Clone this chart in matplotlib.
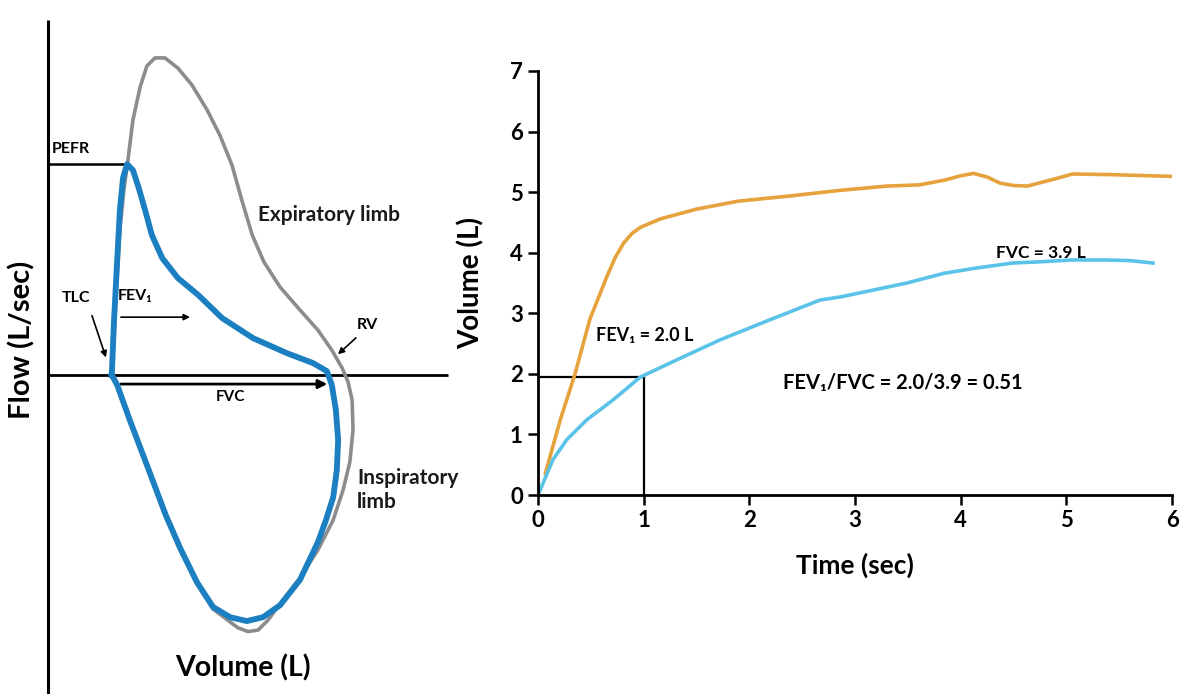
import matplotlib
matplotlib.use("Agg")
import matplotlib.pyplot as plt

plt.rcParams['font.family'] = ['Lato', 'DejaVu Sans']
plt.rcParams['font.weight'] = 'bold'
plt.rcParams['axes.labelweight'] = 'bold'

# ---- flow-volume loop (schematic), volume from TLC in L, flow in L/s ----
normal_vol = [0.04, 0.13, 0.22, 0.31, 0.40, 0.51, 0.67, 0.82, 1.00, 1.22, 1.51, 1.82,
              2.16, 2.44, 2.71, 2.93, 3.16, 3.42, 3.78, 4.22, 4.62, 4.93, 5.16, 5.29,
              5.38, 5.40, 5.33, 5.18, 4.96, 4.62, 4.22, 3.84, 3.51, 3.29, 3.07, 2.84,
              2.60, 2.29, 1.93, 1.56, 1.24, 0.82, 0.44, 0.16, 0.04]
normal_flow = [0.0, 2.5, 4.83, 6.17, 7.17, 8.5, 9.6, 10.3, 10.57, 10.57, 10.23, 9.67,
               8.83, 8.0, 7.0, 5.83, 4.67, 3.77, 2.93, 2.17, 1.5, 0.83, 0.23, -0.23,
               -0.83, -1.83, -2.9, -3.83, -4.83, -5.83, -6.77, -7.5, -8.17, -8.5, -8.55, -8.42,
               -8.15, -7.8, -6.95, -5.8, -4.7, -3.03, -1.52, -0.35, 0.0]

patient_vol = [0.04, 0.09, 0.16, 0.22, 0.29, 0.38, 0.51, 0.64, 0.78, 0.93, 1.16, 1.51,
               1.96, 2.49, 3.18, 3.93, 4.51, 4.82, 4.93, 5.02, 5.07, 5.04, 4.96, 4.80,
               4.62, 4.22, 3.78, 3.40, 3.04, 2.67, 2.29, 1.93, 1.56, 1.24, 0.82, 0.44,
               0.16, 0.04]
patient_flow = [0.0, 1.83, 3.83, 5.5, 6.57, 7.03, 6.83, 6.23, 5.5, 4.67, 3.9, 3.23,
                2.67, 1.9, 1.23, 0.73, 0.4, 0.13, -0.33, -1.17, -2.17, -3.17, -4.07, -4.83,
                -5.57, -6.83, -7.67, -8.07, -8.2, -8.07, -7.73, -6.9, -5.77, -4.67, -3.0, -1.5,
                -0.33, 0.0]

pefr = 7.03
fvc_loop = 4.89

# ---- volume-time curves ----
normal_t = [0.07, 0.21, 0.35, 0.49, 0.65, 0.73, 0.81, 0.89, 0.97, 1.16, 1.5, 1.89, 2.4, 2.86,
            3.3, 3.61, 3.85, 4.0, 4.12, 4.25, 4.37, 4.5, 4.63, 4.85, 5.06, 5.4, 6.0]
normal_v = [0.36, 1.24, 2.0, 2.9, 3.6, 3.92, 4.16, 4.32, 4.42, 4.56, 4.72, 4.85, 4.94, 5.03,
            5.1, 5.12, 5.2, 5.27, 5.31, 5.25, 5.15, 5.11, 5.1, 5.2, 5.3, 5.29, 5.26]

patient_t = [0.0, 0.14, 0.27, 0.46, 0.71, 0.97, 1.25, 1.72, 2.19, 2.67, 2.86, 3.19,
             3.49, 3.84, 4.12, 4.49, 4.75, 5.05, 5.38, 5.6, 5.82]
patient_v = [0.0, 0.58, 0.91, 1.24, 1.57, 1.95, 2.18, 2.56, 2.89, 3.22, 3.27, 3.39,
             3.5, 3.66, 3.74, 3.83, 3.85, 3.88, 3.88, 3.87, 3.83]

fev1_t = 1.0
fev1_v = 1.95
time_ticks = [0, 1, 2, 3, 4, 5, 6]
vol_ticks = [0, 1, 2, 3, 4, 5, 6, 7]

fig = plt.figure(figsize=(11.82, 6.94), dpi=100)

# ------------------------- left panel -------------------------
ax1 = fig.add_axes([0, 0, 0.4, 1])
ax1.set_xlim(-2.444, 8.062)
ax1.set_ylim(-10.63, 12.5)
ax1.axis('off')

axis_v = -1.378
ax1.plot([axis_v, axis_v], [-10.63, 11.83], color='black', lw=2.2, solid_capstyle='butt')
ax1.plot([axis_v, 7.51], [0, 0], color='black', lw=2.0, solid_capstyle='butt')

ax1.plot(normal_vol, normal_flow, color='#8c8c8c', lw=2.6, solid_joinstyle='round', zorder=3)
ax1.plot(patient_vol, patient_flow, color='#1b7fc1', lw=4.2, solid_joinstyle='round', zorder=4)

# PEFR
ax1.plot([axis_v, 0.38], [pefr, pefr], color='black', lw=1.8)
ax1.text(-1.30, 7.55, 'PEFR', fontsize=11.5, ha='left', va='center')

arrow_thin = dict(arrowstyle='-|>', color='black', lw=1.2, mutation_scale=9)
ax1.text(-0.76, 2.57, 'TLC', fontsize=11.5, ha='center', va='center')
ax1.annotate('', xy=(-0.07, 0.5), xytext=(-0.42, 2.07), arrowprops=arrow_thin)

ax1.text(0.18, 2.65, 'FEV\u2081', fontsize=11.5, ha='left', va='center')
ax1.annotate('', xy=(1.84, 1.93), xytext=(0.18, 1.93), arrowprops=arrow_thin)

ax1.annotate('', xy=(fvc_loop, -0.3), xytext=(0.18, -0.3),
             arrowprops=dict(arrowstyle='-|>', color='black', lw=2.0, mutation_scale=13))
ax1.text(2.67, -0.73, 'FVC', fontsize=11, ha='center', va='center')

ax1.text(5.72, 1.67, 'RV', fontsize=11.5, ha='center', va='center')
ax1.annotate('', xy=(5.02, 0.63), xytext=(5.51, 1.3), arrowprops=arrow_thin)

ax1.text(3.29, 5.33, 'Expiratory limb', fontsize=15, ha='left', va='center', color='#1a1a1a')
ax1.text(5.49, -3.83, 'Inspiratory\nlimb', fontsize=15, ha='left', va='center',
         linespacing=1.3, color='#1a1a1a')

ax1.text(2.96, -9.77, 'Volume (L)', fontsize=20.5, ha='center', va='center')
ax1.text(-1.96, 1.17, 'Flow (L/sec)', fontsize=21, ha='center', va='center', rotation=90)

# ------------------------- right panel -------------------------
ax2 = fig.add_axes([0.4552, 0.2867, 0.5364, 0.611])
ax2.plot(normal_t, normal_v, color='#e6a23c', lw=2.6, solid_joinstyle='round')
ax2.plot(patient_t, patient_v, color='#5cc3e8', lw=2.6, solid_joinstyle='round')
ax2.plot([0, fev1_t], [fev1_v, fev1_v], color='black', lw=1.6, zorder=1)
ax2.plot([fev1_t, fev1_t], [0, fev1_v], color='black', lw=1.6, zorder=1)

ax2.set_xlim(0, 6)
ax2.set_ylim(0, 7)
ax2.set_xticks(time_ticks)
ax2.set_yticks(vol_ticks)
ax2.set_xticklabels([str(t) for t in time_ticks], fontweight='bold', fontsize=16)
ax2.set_yticklabels([str(v) for v in vol_ticks], fontweight='bold', fontsize=16)
for s in ['top', 'right']:
    ax2.spines[s].set_visible(False)
for s in ['left', 'bottom']:
    ax2.spines[s].set_linewidth(2.0)
ax2.tick_params(direction='out', length=7, width=1.8, pad=4)

ax2.set_xlabel('Time (sec)', fontsize=19, fontweight='bold')
ax2.set_ylabel('Volume (L)', fontsize=20, fontweight='bold')
ax2.xaxis.set_label_coords(0.5, -0.135)
ax2.yaxis.set_label_coords(-0.085, 0.5)

ax2.text(0.55, 2.64, 'FEV\u2081 = 2.0 L', fontsize=13, ha='left', va='center')
ax2.text(4.76, 4.0, 'FVC = 3.9 L', fontsize=12.5, ha='center', va='center')
ax2.text(2.32, 1.85, 'FEV\u2081/FVC = 2.0/3.9 = 0.51', fontsize=14.5, ha='left', va='center')

fig.savefig('out.png', dpi=100)
